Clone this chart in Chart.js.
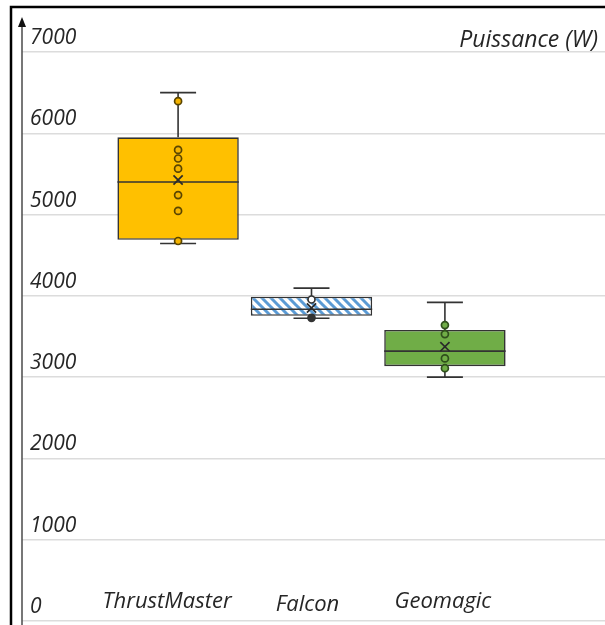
<!DOCTYPE html>
<html>
<head>
<meta charset="utf-8">
<script src="https://cdn.jsdelivr.net/npm/chart.js@4.4.1/dist/chart.umd.min.js"></script>
<style>
  html, body { margin: 0; padding: 0; background: #fff; overflow: hidden; }
  #wrap { width: 605px; height: 625px; position: relative; }
</style>
</head>
<body>
<div id="wrap"><canvas id="puissance-chart"></canvas></div>
<script>
// values (W)
const categories = ['ThrustMaster', 'Falcon', 'Geomagic']
const whiskerMin = [4645, 3725, 3000]
const q1 = [4690, 3755, 3135]
const median = [5400, 3835, 3320]
const q3 = [5950, 3990, 3580]
const whiskerMax = [6500, 4095, 3920]
const means = [5425, 3850, 3375]
const samples = [
  [6395, 5795, 5690, 5565, 5240, 5045, 4675],
  [3955, 3730],
  [3640, 3530, 3230, 3110]
]
const yTicks = [0, 1000, 2000, 3000, 4000, 5000, 6000, 7000]
const yTitle = 'Puissance (W)'

const font = "'Open Sans', sans-serif"
const ink = '#262626'
const edge = '#333333'

// blue hatch for Falcon
const tile = document.createElement('canvas')
tile.width = tile.height = 9
const tc = tile.getContext('2d')
tc.fillStyle = '#fff'
tc.fillRect(0, 0, 9, 9)
tc.strokeStyle = '#5B9BD5'
tc.lineWidth = 3
tc.beginPath()
tc.moveTo(-1, -1); tc.lineTo(10, 10)
tc.moveTo(-1, 8); tc.lineTo(1, 10)
tc.moveTo(8, -1); tc.lineTo(10, 1)
tc.stroke()
const hatch = document.createElement('canvas').getContext('2d').createPattern(tile, 'repeat')

const boxFill = ['#FFC000', hatch, '#70AD47']
const dotFill = ['#F5B400', '#ffffff', '#70AD47']
const dotEdge = ['#5a4500', '#333333', '#2f4f1c']

const pts = [], ptFill = [], ptEdge = []
samples.forEach((list, i) => {
  list.forEach((v, j) => {
    pts.push({ x: i + 1, y: v })
    // lowest Falcon point is drawn dark in the original
    ptFill.push(i === 1 && j > 0 ? '#333333' : dotFill[i])
    ptEdge.push(dotEdge[i])
  })
})

const boxExtras = {
  id: 'boxExtras',
  beforeDraw(chart) {
    const { ctx, width, height } = chart
    ctx.save()
    ctx.fillStyle = '#fff'
    ctx.fillRect(0, 0, width, height)
    ctx.strokeStyle = '#000'
    ctx.lineWidth = 2.5
    ctx.beginPath()
    ctx.moveTo(11, height)
    ctx.lineTo(11, 7)
    ctx.lineTo(width, 7)
    ctx.stroke()
    ctx.restore()
  },
  afterDatasetDraw(chart, args) {
    if (args.index !== 0) return
    const { ctx, scales: { x, y } } = chart
    const bars = chart.getDatasetMeta(0).data
    ctx.save()
    ctx.strokeStyle = edge
    ctx.lineWidth = 1.6
    categories.forEach((c, i) => {
      const cx = x.getPixelForValue(i + 1)
      const half = bars[i].width / 2
      ctx.beginPath()
      ctx.moveTo(cx, y.getPixelForValue(q3[i]))
      ctx.lineTo(cx, y.getPixelForValue(whiskerMax[i]))
      ctx.moveTo(cx, y.getPixelForValue(q1[i]))
      ctx.lineTo(cx, y.getPixelForValue(whiskerMin[i]))
      ctx.moveTo(cx - 18, y.getPixelForValue(whiskerMax[i]))
      ctx.lineTo(cx + 18, y.getPixelForValue(whiskerMax[i]))
      ctx.moveTo(cx - 18, y.getPixelForValue(whiskerMin[i]))
      ctx.lineTo(cx + 18, y.getPixelForValue(whiskerMin[i]))
      ctx.moveTo(cx - half, y.getPixelForValue(median[i]))
      ctx.lineTo(cx + half, y.getPixelForValue(median[i]))
      ctx.stroke()
    })
    ctx.restore()
  },
  afterDraw(chart) {
    const { ctx, chartArea, scales: { x } } = chart
    ctx.save()
    // y axis with arrow
    const ax = chartArea.left
    ctx.strokeStyle = '#4a4a4a'
    ctx.lineWidth = 1.5
    ctx.beginPath()
    ctx.moveTo(ax, chartArea.bottom + 4)
    ctx.lineTo(ax, 24)
    ctx.stroke()
    ctx.fillStyle = '#111'
    ctx.beginPath()
    ctx.moveTo(ax, 17)
    ctx.lineTo(ax + 4, 27)
    ctx.lineTo(ax - 4, 27)
    ctx.closePath()
    ctx.fill()
    // unit
    ctx.font = 'italic 23px ' + font
    ctx.fillStyle = ink
    ctx.textAlign = 'right'
    ctx.textBaseline = 'alphabetic'
    ctx.fillText(yTitle, 598, 47)
    // categories
    ctx.font = 'italic 22px ' + font
    const nudge = [[-11, 0], [-4, 3], [-2, 0]]
    ctx.textAlign = 'center'
    categories.forEach((c, i) => {
      ctx.fillText(c, x.getPixelForValue(i + 1) + nudge[i][0], 608 + nudge[i][1])
    })
    ctx.restore()
  }
}

new Chart(document.getElementById('puissance-chart'), {
  type: 'bar',
  data: {
    datasets: [
      {
        label: 'Boîte',
        data: categories.map((c, i) => ({ x: i + 1, y: [q1[i], q3[i]] })),
        backgroundColor: boxFill,
        borderColor: edge,
        borderWidth: 1.6,
        borderSkipped: false,
        barPercentage: 0.91,
        categoryPercentage: 1,
        order: 3
      },
      {
        type: 'scatter',
        label: 'Mesures',
        data: pts,
        pointRadius: 3.5,
        pointBorderWidth: 1.7,
        pointBackgroundColor: ptFill,
        pointBorderColor: ptEdge,
        order: 2
      },
      {
        type: 'scatter',
        label: 'Moyenne',
        data: means.map((v, i) => ({ x: i + 1, y: v })),
        pointStyle: 'crossRot',
        pointRadius: 6.5,
        pointBorderWidth: 1.7,
        pointBorderColor: '#2a2a2a',
        order: 1
      }
    ]
  },
  options: {
    responsive: true,
    maintainAspectRatio: false,
    animation: false,
    layout: { autoPadding: false, padding: { left: 22, top: 52, right: 0, bottom: 4 } },
    plugins: {
      legend: { display: false },
      tooltip: { enabled: false }
    },
    scales: {
      x: {
        type: 'linear',
        min: -0.17,
        max: 4.2,
        offset: false,
        display: false,
        afterBuildTicks: (scale) => { scale.ticks = categories.map((c, i) => ({ value: i + 1 })) }
      },
      y: {
        min: 0,
        max: 7000,
        afterBuildTicks: (scale) => { scale.ticks = yTicks.map(v => ({ value: v })) },
        afterFit: (scale) => {
          scale.width = 0
          scale.paddingTop = 0
          scale.paddingBottom = 0
        },
        border: { display: false },
        grid: { color: '#dcdcdc', lineWidth: 1.5, drawTicks: false },
        ticks: {
          mirror: true,
          padding: 8,
          autoSkip: false,
          color: ink,
          font: { family: font, size: 21, style: 'italic', lineHeight: '28px' },
          callback: (v) => [String(v), '']
        }
      }
    }
  },
  plugins: [boxExtras]
})
</script>
</body>
</html>
